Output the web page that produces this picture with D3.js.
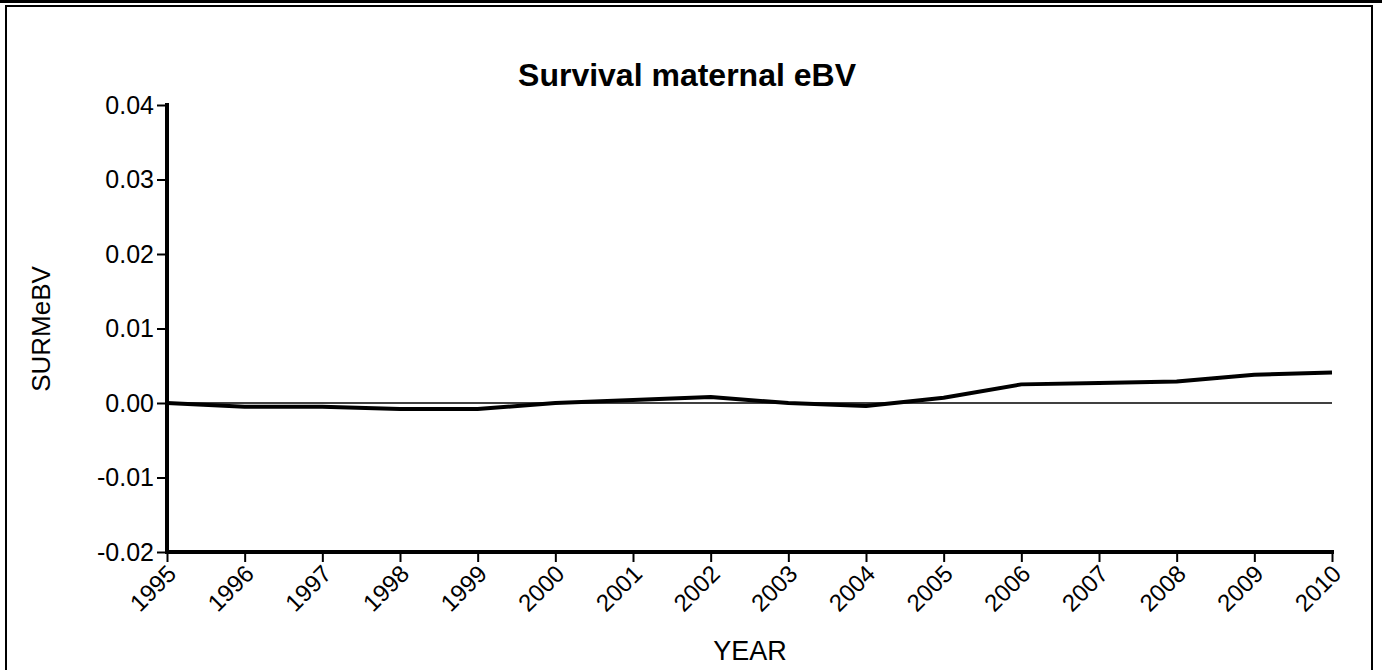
<!DOCTYPE html>
<html><head><meta charset="utf-8">
<script src="https://cdn.jsdelivr.net/npm/d3@7"></script>
<style>body{margin:0;background:#fff}svg{display:block}</style>
</head><body>
<svg id="c" width="1382" height="670"></svg>
<script>
const years = [1995,1996,1997,1998,1999,2000,2001,2002,2003,2004,2005,2006,2007,2008,2009,2010];
const values = [0.0000,-0.0005,-0.0005,-0.0008,-0.0008,0.0000,0.0004,0.0008,0.0000,-0.0004,0.0007,0.0025,0.0027,0.0029,0.0038,0.0041];
const yTicks = [-0.02,-0.01,0.00,0.01,0.02,0.03,0.04];
const title = "Survival maternal eBV";
const xLabel = "YEAR";
const yLabel = "SURMeBV";

const svg = d3.select("#c");
const font = "Liberation Sans, Arial, Helvetica, sans-serif";
// frame
svg.append("rect").attr("x",0).attr("y",0).attr("width",1382).attr("height",3).attr("fill","#000");
svg.append("rect").attr("x",6).attr("y",6).attr("width",1366).attr("height",700)
  .attr("fill","none").attr("stroke","#000").attr("stroke-width",2);

const L=167,R=1332,T=105,B=552;
const x = d3.scaleLinear().domain([1995,2010]).range([L,R]);
const y = d3.scaleLinear().domain([-0.02,0.04]).range([B,T]);

// zero line
svg.append("line").attr("x1",L).attr("x2",R).attr("y1",y(0)).attr("y2",y(0))
  .attr("stroke","#000").attr("stroke-width",1.5);

const fmt = d => d3.format(".2f")(d).replace("\u2212","-");

// y axis
const ya = svg.append("g").attr("transform",`translate(${L},0)`)
  .call(d3.axisLeft(y).tickValues(yTicks).tickFormat(fmt).tickSize(10).tickSizeOuter(0).tickPadding(3));
ya.select(".domain").attr("stroke-width",4).attr("d",`M0,${T-2}V${B+2}`);
ya.selectAll(".tick line").attr("stroke-width",2);
ya.selectAll("text").attr("font-family",font).attr("font-size",25).attr("fill","#000");

// x axis
const xa = svg.append("g").attr("transform",`translate(0,${B})`)
  .call(d3.axisBottom(x).tickValues(years).tickFormat(d3.format("d")).tickSize(10).tickSizeOuter(0));
xa.select(".domain").attr("stroke-width",4).attr("d",`M${L-2},0H${R+2}`);
xa.selectAll(".tick line").attr("stroke-width",2);
xa.selectAll("text").attr("font-family",font).attr("font-size",24).attr("fill","#000")
  .attr("text-anchor","end").attr("dy","0.72em")
  .attr("transform","translate(-2,11) rotate(-45)").attr("x",0).attr("y",0);

// line
svg.append("path").datum(years.map((d,i)=>[d,values[i]]))
  .attr("fill","none").attr("stroke","#000").attr("stroke-width",4).attr("stroke-linejoin","round")
  .attr("d", d3.line().x(d=>x(d[0])).y(d=>y(d[1])));

// labels
svg.append("text").attr("x",687).attr("y",86).attr("text-anchor","middle")
  .attr("font-family",font).attr("font-size",32).attr("font-weight","bold").text(title);
svg.append("text").attr("x",750).attr("y",660).attr("text-anchor","middle")
  .attr("font-family",font).attr("font-size",27).text(xLabel);
svg.append("text").attr("transform","translate(50,329) rotate(-90)").attr("text-anchor","middle")
  .attr("font-family",font).attr("font-size",26).text(yLabel);
</script>
</body></html>
